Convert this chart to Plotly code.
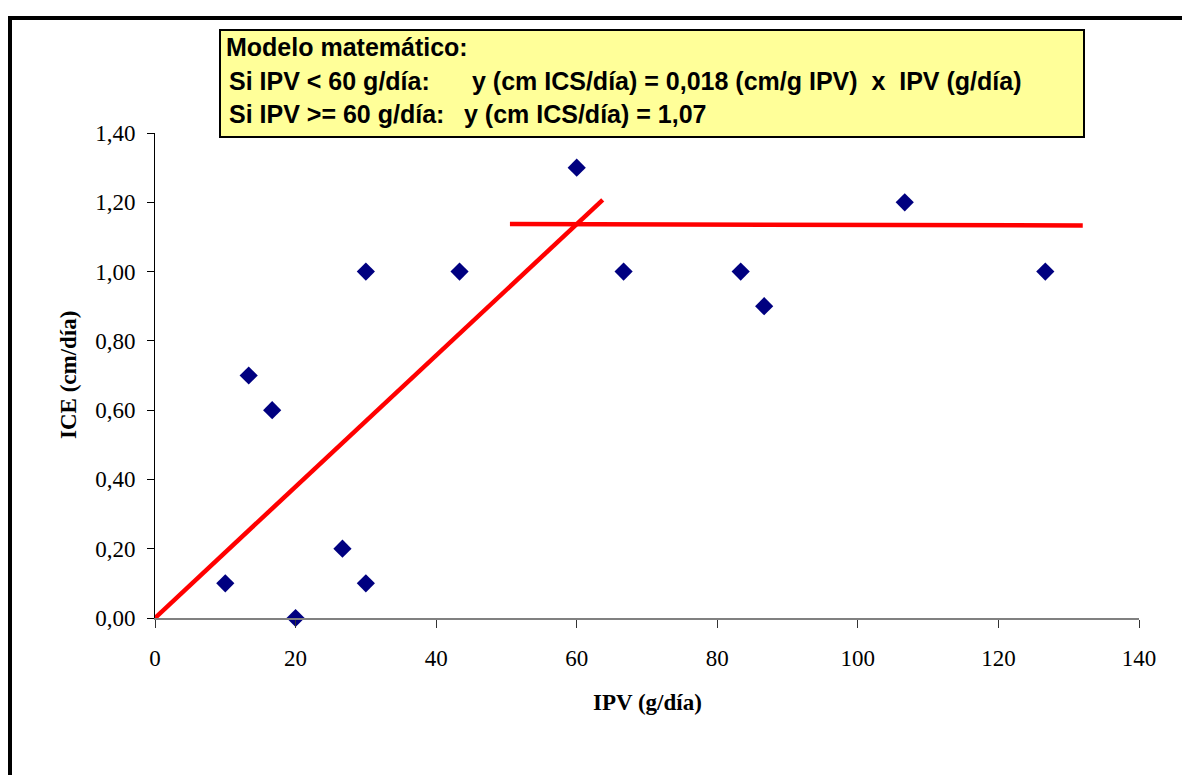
import plotly.graph_objects as go

# Observed data: IPV (g/día) vs ICE (cm/día)
ipv = [10, 13.33, 16.67, 20, 26.67, 30, 30, 43.33, 60, 66.67, 83.33, 86.67, 106.67, 126.67]
ice = [0.10, 0.70, 0.60, 0.00, 0.20, 1.00, 0.10, 1.00, 1.30, 1.00, 1.00, 0.90, 1.20, 1.00]

# Piecewise model lines as drawn
rise_x = [0, 63.7]
rise_y = [0, 1.207]
plateau_x = [50.5, 132.0]
plateau_y = [1.137, 1.133]

x_ticks = [0, 20, 40, 60, 80, 100, 120, 140]
y_ticks = [0.0, 0.2, 0.4, 0.6, 0.8, 1.0, 1.2, 1.4]

W, H = 1182, 775
L, R, T, B = 155, 1139, 133, 618  # plot area in pixels


def px(x):
    return (x - L) / (R - L)


def py(y):
    return (B - y) / (B - T)


fig = go.Figure()
fig.add_trace(go.Scatter(x=rise_x, y=rise_y, mode="lines",
                         line=dict(color="#FF0000", width=4.5), cliponaxis=False))
fig.add_trace(go.Scatter(x=plateau_x, y=plateau_y, mode="lines",
                         line=dict(color="#FF0000", width=4.5), cliponaxis=False))
fig.add_trace(go.Scatter(x=ipv, y=ice, mode="markers", cliponaxis=False,
                         marker=dict(symbol="diamond", size=14, color="#000080",
                                     line=dict(width=0))))

tick_font = dict(family="Liberation Serif", size=23, color="black")
title_font = dict(family="Liberation Serif", size=23, color="black")
box_font = dict(family="Liberation Sans", size=25, color="black")

fig.update_xaxes(range=[0, 140], tickvals=x_ticks, ticktext=[str(v) for v in x_ticks],
                 showgrid=False, zeroline=False, showline=True, linecolor="#808080",
                 linewidth=2, ticks="outside", ticklen=8, tickcolor="#333333", tickwidth=1,
                 tickfont=tick_font, ticklabelstandoff=10)
fig.update_yaxes(range=[0, 1.4], tickvals=y_ticks, tickformat=".2f",
                 showgrid=False, zeroline=False, showline=True, linecolor="black",
                 linewidth=1, ticks="outside", ticklen=7, tickcolor="black", tickwidth=1,
                 tickfont=tick_font, ticklabelstandoff=7)

shapes = [
    # outer frame (left and top edges)
    dict(type="line", xref="paper", yref="paper", x0=px(10), x1=px(10),
         y0=py(18), y1=py(800), line=dict(color="black", width=4)),
    dict(type="line", xref="paper", yref="paper", x0=px(8), x1=px(1200),
         y0=py(18), y1=py(18), line=dict(color="black", width=4)),
    # model box
    dict(type="rect", xref="paper", yref="paper", x0=px(220), x1=px(1084),
         y0=py(137), y1=py(30), fillcolor="#FFFF99",
         line=dict(color="black", width=2), layer="above"),
]

annotations = [
    dict(text="<b>Modelo matemático:</b>", x=px(224), y=py(47)),
    dict(text="<b>Si IPV &lt; 60 g/día:</b>", x=px(227), y=py(81)),
    dict(text="<b>y (cm ICS/día) = 0,018 (cm/g IPV)\u00a0\u00a0x\u00a0\u00a0IPV (g/día)</b>",
         x=px(470), y=py(81)),
    dict(text="<b>Si IPV &gt;= 60 g/día:</b>", x=px(227), y=py(114)),
    dict(text="<b>y (cm ICS/día) = 1,07</b>", x=px(462), y=py(114)),
]
for a in annotations:
    a.update(xref="paper", yref="paper", xanchor="left", yanchor="middle",
             showarrow=False, font=box_font)

annotations += [
    dict(text="<b>IPV (g/día)</b>", x=px(647), y=py(702), xref="paper", yref="paper",
         xanchor="center", yanchor="middle", showarrow=False, font=title_font),
    dict(text="<b>ICE (cm/día)</b>", x=px(68), y=py(375), xref="paper", yref="paper",
         xanchor="center", yanchor="middle", showarrow=False, font=title_font,
         textangle=-90),
]

fig.update_layout(
    width=W, height=H,
    margin=dict(l=L, r=W - R, t=T, b=H - B),
    paper_bgcolor="white", plot_bgcolor="white",
    showlegend=False, separators=",.",
    shapes=shapes, annotations=annotations,
)

fig.write_html("out.html")
